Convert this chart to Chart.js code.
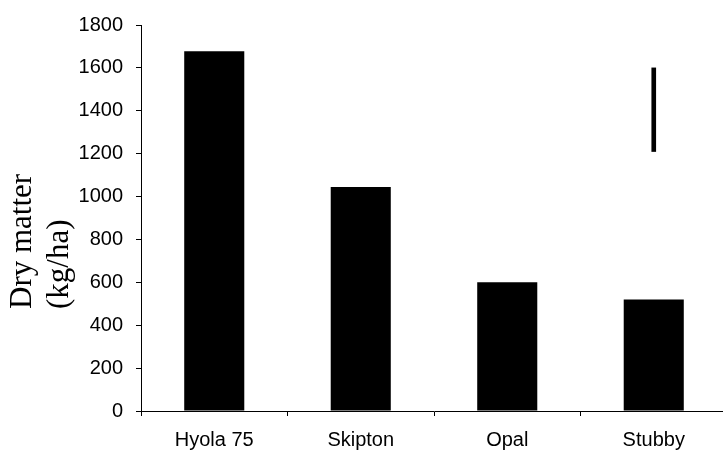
<!DOCTYPE html>
<html>
<head>
<meta charset="utf-8">
<script src="https://cdn.jsdelivr.net/npm/chart.js@4/dist/chart.umd.min.js"></script>
<style>
  html, body { margin: 0; padding: 0; background: #fff; overflow: hidden; }
  #wrap { width: 740px; height: 452px; }
</style>
</head>
<body>
<div id="wrap"><canvas id="chart" width="740" height="452"></canvas></div>
<script>
// ====== DATA ======
const categories = ['Hyola 75', 'Skipton', 'Opal', 'Stubby'];
const dryMatter  = [1678, 1045, 600, 520];          // kg/ha
const lsdBar     = [null, null, null, [1210, 1600]]; // LSD line drawn over Stubby
const yMin = 0, yMax = 1800, yStep = 200;
const yTitleLines = ['Dry matter', '(kg/ha)'];

// ====== STYLE ======
const tickFont = { family: '"Liberation Sans", Arial, sans-serif', size: 20 };

// y title: two lines, left aligned (bottom when rotated)
const yTitlePlugin = {
  id: 'yTitle',
  afterDraw(chart) {
    const ctx = chart.ctx;
    const baselines = [31, 68];
    ctx.save();
    ctx.fillStyle = '#000';
    ctx.font = '31px "Liberation Serif", "Times New Roman", serif';
    ctx.textAlign = 'left';
    ctx.textBaseline = 'alphabetic';
    yTitleLines.forEach((txt, i) => {
      ctx.save();
      ctx.translate(baselines[i], 309);
      ctx.rotate(-Math.PI / 2);
      ctx.fillText(txt, 0, 0);
      ctx.restore();
    });
    ctx.restore();
  }
};

new Chart(document.getElementById('chart').getContext('2d'), {
  type: 'bar',
  data: {
    labels: categories,
    datasets: [
      {
        data: dryMatter,
        backgroundColor: '#000',
        borderWidth: 0,
        grouped: false,
        categoryPercentage: 1.0,
        barPercentage: 0.41
      },
      {
        data: lsdBar,
        backgroundColor: '#000',
        borderWidth: 0,
        grouped: false,
        barThickness: 4
      }
    ]
  },
  options: {
    responsive: false,
    animation: false,
    layout: { padding: { top: 24, right: 13, bottom: 0, left: 0 } },
    plugins: {
      legend: { display: false },
      tooltip: { enabled: false }
    },
    scales: {
      x: {
        offset: true,
        afterFit(scale) { scale.height = 41; },
        grid: { offset: true, drawOnChartArea: false, tickLength: 5, tickColor: '#000', tickWidth: 1 },
        border: { display: true, color: '#000', width: 1 },
        ticks: { color: '#000', font: tickFont, padding: 12, maxRotation: 0 }
      },
      y: {
        min: yMin,
        max: yMax,
        afterFit(scale) { scale.width = 141; },
        grid: { drawOnChartArea: false, tickLength: 5, tickColor: '#000', tickWidth: 1 },
        border: { display: true, color: '#000', width: 1 },
        ticks: { stepSize: yStep, color: '#000', font: tickFont, padding: 13, callback: v => String(v) }
      }
    }
  },
  plugins: [yTitlePlugin]
});
</script>
</body>
</html>
